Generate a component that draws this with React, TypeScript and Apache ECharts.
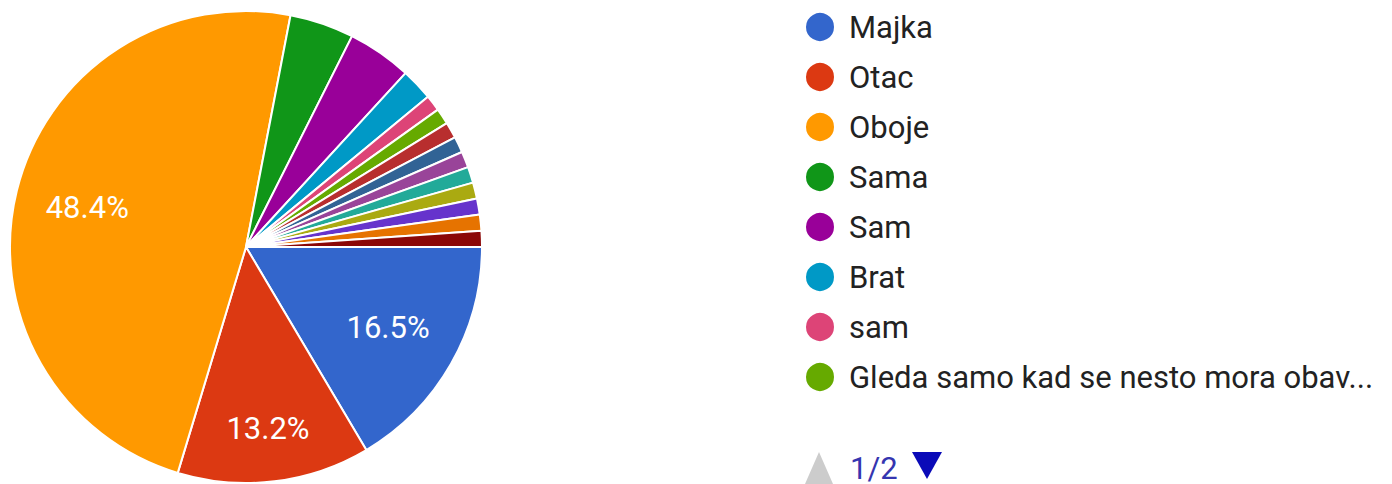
import React, { useEffect, useRef } from "react";
import * as echarts from "echarts";

const categories = [
  "Majka",
  "Otac",
  "Oboje",
  "Sama",
  "Sam",
  "Brat",
  "sam",
  "Gleda samo kad se nesto mora obaviti",
  "Baka",
  "Djed",
  "Sestra",
  "Tetka",
  "Ujak",
  "Niko",
  "Roditelji",
  "Staratelj",
];
const values = [15, 12, 44, 4, 4, 2, 1, 1, 1, 1, 1, 1, 1, 1, 1, 1];
const colors = [
  "#3366cc", "#dc3912", "#ff9900", "#109618", "#990099", "#0099c6", "#dd4477", "#66aa00",
  "#b82e2e", "#316395", "#994499", "#22aa99", "#aaaa11", "#6633cc", "#e67300", "#8b0707",
];
const legendPageSize = 8;
const legendMaxChars = 33;
const pageLabel = "1/2";

export default function App() {
  const ref = useRef<HTMLDivElement>(null);
  useEffect(() => {
    document.body.style.margin = "0";
    if (!ref.current) return;
    const chart = echarts.init(ref.current, undefined, { renderer: "svg" });
    const total = values.reduce((a, b) => a + b, 0);
    const R = 236;
    const cx = 246;
    const cy = 247;
    const midAngles: number[] = [];
    let acc = 0;
    values.forEach((v) => {
      const a0 = (acc / total) * 2 * Math.PI;
      acc += v;
      const a1 = (acc / total) * 2 * Math.PI;
      midAngles.push((a0 + a1) / 2);
    });
    chart.setOption({
      animation: false,
      color: colors,
      textStyle: { fontFamily: "Roboto" },
      legend: {
        type: "plain",
        orient: "vertical",
        left: 804,
        top: 11,
        padding: 0,
        data: categories.slice(0, legendPageSize),
        itemWidth: 30,
        itemHeight: 30,
        itemGap: 18,
        icon: "circle",
        selectedMode: false,
        formatter: (name: string) =>
          name.length > legendMaxChars ? name.slice(0, legendMaxChars) + "..." : name,
        textStyle: {
          color: "#222222",
          fontSize: 31,
          lineHeight: 32,
          fontFamily: "Roboto",
          padding: [0, 0, 0, 9],
        },
      },
      graphic: [
        {
          type: "polygon",
          shape: { points: [[805, 484], [833, 484], [819, 452]] },
          style: { fill: "#cccccc" },
        },
        {
          type: "text",
          x: 850,
          y: 468,
          style: {
            text: pageLabel,
            fontSize: 31,
            lineHeight: 28,
            fontFamily: "Roboto",
            fill: "#3535b0",
            verticalAlign: "middle",
          },
        },
        {
          type: "polygon",
          shape: { points: [[912, 452], [942, 452], [927, 479]] },
          style: { fill: "#0a0ab8" },
        },
      ],
      series: [
        {
          type: "pie",
          center: [cx, cy],
          radius: [0, R],
          startAngle: 0,
          clockwise: true,
          itemStyle: { borderColor: "#ffffff", borderWidth: 2 },
          label: {
            show: true,
            position: "inside",
            formatter: (p: any) =>
              p.value / total > 0.1 ? ((p.value / total) * 100).toFixed(1) + "%" : "",
            color: "#ffffff",
            fontSize: 31,
            fontFamily: "Roboto",
          },
          labelLine: { show: false },
          labelLayout: (params: any) => {
            const i = params.dataIndex;
            const a = midAngles[i];
            const k = i === 1 ? 0.76 : 0.68;
            const shift = (k - 0.5) * R;
            return { dx: shift * Math.cos(a), dy: shift * Math.sin(a) };
          },
          emphasis: { disabled: true },
          data: categories.map((name, i) => ({ name, value: values[i] })),
        },
      ],
    });
    return () => chart.dispose();
  }, []);
  return <div ref={ref} style={{ width: 1392, height: 484 }} />;
}
